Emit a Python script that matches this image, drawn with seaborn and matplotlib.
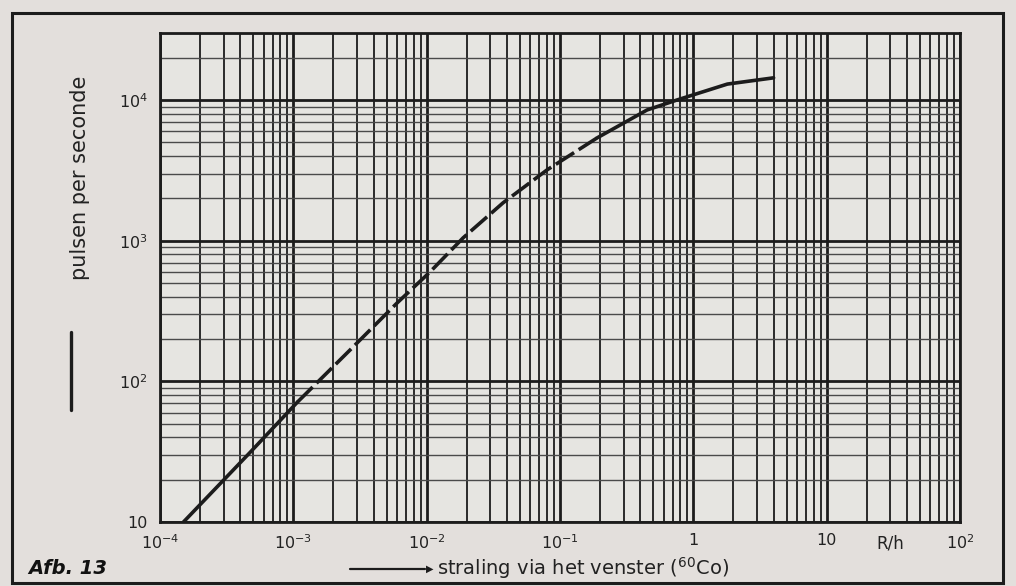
"""Afb. 13 - pulsen per seconde vs. straling via het venster (60Co)."""

import numpy as np
import pandas as pd
import seaborn as sns
import matplotlib.pyplot as plt
from matplotlib.lines import Line2D
from matplotlib.patches import Rectangle
from matplotlib.ticker import LogLocator, NullFormatter

rate = [1.5e-4, 4.7e-4, 1.07e-3, 2.66e-3, 6.0e-3, 1.06e-2, 1.88e-2,
        3.74e-2, 8.0e-2, 0.19, 0.45, 0.75, 1.8, 4.0]
pps = [10, 31, 71, 167, 361, 600, 1050, 1860, 3190, 5390, 8510,
       1.0e4, 1.3e4, 1.44e4]
# 0 = solid, 1 = dashed (middle part of curve looks broken in print)
part = [0, 0, 0, 1, 1, 1, 1, 1, 1, 1, 2, 2, 2, 2]

x_ticks = [1e-4, 1e-3, 1e-2, 1e-1, 1, 10, 100]
x_labels = ['$10^{-4}$', '$10^{-3}$', '$10^{-2}$', '$10^{-1}$', '1', '10',
            '$10^{2}$']
y_ticks = [10, 100, 1000, 10000]
y_labels = ['10', '$10^{2}$', '$10^{3}$', '$10^{4}$']

paper = '#e3dfdc'
grid_paper = '#e6e5e1'
ink = '#1c1c1c'

sns.set_style('white')
plt.rcParams['font.family'] = ['DejaVu Sans']

df = pd.DataFrame({'rate': rate, 'pps': pps, 'part': part})

fig = plt.figure(figsize=(10.16, 5.86), dpi=100, facecolor=paper)
ax = fig.add_axes([160 / 1016, 1 - 522 / 586, 800 / 1016, 489 / 586])
ax.set_facecolor(grid_paper)
ax.set_xscale('log')
ax.set_yscale('log')
ax.set_xlim(1e-4, 1e2)
ax.set_ylim(10, 3e4)

ax.xaxis.set_minor_locator(LogLocator(base=10, subs=np.arange(2, 10), numticks=100))
ax.yaxis.set_minor_locator(LogLocator(base=10, subs=np.arange(2, 10), numticks=100))
ax.xaxis.set_minor_formatter(NullFormatter())
ax.yaxis.set_minor_formatter(NullFormatter())

ax.xaxis.grid(True, which='major', color=ink, lw=2.0)
ax.xaxis.grid(True, which='minor', color=ink, lw=1.3)
ax.yaxis.grid(True, which='major', color=ink, lw=2.0)
ax.yaxis.grid(True, which='minor', color='#4a4a4a', lw=1.0)
ax.set_axisbelow(True)

# curve: solid / dashed / solid pieces, joined at shared points
seg_a = df[df['part'] == 0]
seg_b = df.iloc[2:10]
seg_c = df.iloc[9:]
sns.lineplot(data=seg_a, x='rate', y='pps', color=ink, lw=2.6, ax=ax,
             sort=False, estimator=None)
sns.lineplot(data=seg_b, x='rate', y='pps', color=ink, lw=2.6, ax=ax,
             sort=False, estimator=None, linestyle=(0, (6, 1.5)))
sns.lineplot(data=seg_c, x='rate', y='pps', color=ink, lw=2.6, ax=ax,
             sort=False, estimator=None)

ax.set_xticks(x_ticks)
ax.set_xticklabels(x_labels)
ax.set_yticks(y_ticks)
ax.set_yticklabels(y_labels)
ax.tick_params(which='both', length=0)
ax.tick_params(axis='x', pad=8, labelsize=11.5, colors='#222222')
ax.tick_params(axis='y', pad=9, labelsize=11.5, colors='#222222')
ax.set_xlabel('')
ax.set_ylabel('')
for s in ax.spines.values():
    s.set_visible(True)
    s.set_color(ink)
    s.set_linewidth(2.0)

# axis titles, drawn like in the print
fig.text(890 / 1016, 1 - 544 / 586, 'R/h', fontsize=12, color='#222222',
         ha='center', va='center')
fig.text(437 / 1016, 1 - 568 / 586, 'straling via het venster ($^{60}$Co)',
         fontsize=14, color='#222222', ha='left', va='center')
fig.add_artist(Line2D([350 / 1016, 425 / 1016], [1 - 569 / 586] * 2,
                      color=ink, lw=1.6))
fig.text(433 / 1016, 1 - 569 / 586, '\u25B6', fontsize=7, color=ink,
         ha='right', va='center')

fig.text(80 / 1016, 1 - 178 / 586, 'pulsen per seconde', rotation=90,
         fontsize=15, color='#222222', ha='center', va='center')
fig.add_artist(Line2D([71 / 1016] * 2, [1 - 332 / 586, 1 - 410 / 586],
                      color=ink, lw=2.4))

fig.text(28 / 1016, 1 - 569 / 586, 'Afb. 13', fontsize=14,
         fontweight='heavy', style='italic', family='DejaVu Sans',
         color='#111111', ha='left', va='center')

# outer frame of the figure box
fig.add_artist(Rectangle((12 / 1016, 3 / 586), 991 / 1016, 570 / 586,
                         fill=False, edgecolor=ink, lw=2.2,
                         transform=fig.transFigure))

fig.savefig('out.png', dpi=100, facecolor=paper)
plt.close(fig)
